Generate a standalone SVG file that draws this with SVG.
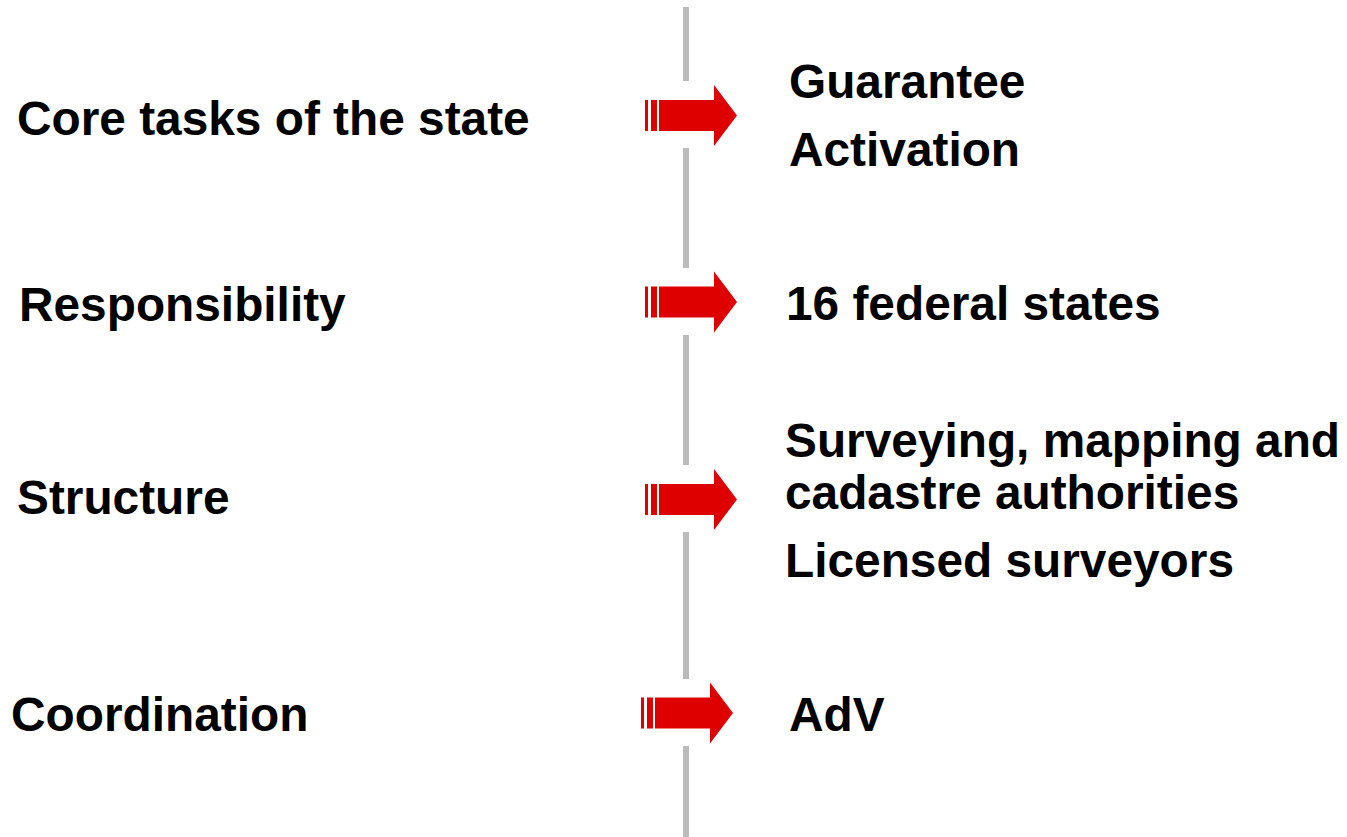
<svg xmlns="http://www.w3.org/2000/svg" xmlns:xlink="http://www.w3.org/1999/xlink" width="1347" height="837" viewBox="0 0 1347 837">
<style>
  .t { font-family: "Liberation Sans", Arial, sans-serif; font-weight: bold; font-size: 47.8px; fill: #000; }
  .sep { fill: #BBBBBB; }
  .arr { fill: #DE0000; }
</style>
<defs>
  <g id="arrow" class="arr">
    <rect x="0" y="-15.5" width="3" height="31"/>
    <rect x="6" y="-15.5" width="6" height="31"/>
    <path d="M14,-15.5 H69 V-30.5 L92,0 L69,30.5 V15.5 H14 Z"/>
  </g>
</defs>
<rect width="1347" height="837" fill="#fff"/>
<g id="separator">
  <rect class="sep" x="683" y="7" width="6" height="74"/>
  <rect class="sep" x="683" y="148" width="6" height="120"/>
  <rect class="sep" x="683" y="335" width="6" height="130"/>
  <rect class="sep" x="683" y="532" width="6" height="147"/>
  <rect class="sep" x="683" y="746" width="6" height="91"/>
</g>
<g id="connectors">
  <use xlink:href="#arrow" href="#arrow" transform="translate(645,115.5)"/>
  <use xlink:href="#arrow" href="#arrow" transform="translate(645,302)"/>
  <use xlink:href="#arrow" href="#arrow" transform="translate(645,499.5)"/>
  <use xlink:href="#arrow" href="#arrow" transform="translate(641,713)"/>
</g>
<g id="core-tasks"><text class="t" x="17" y="135">Core tasks of the state</text></g>
<g id="core-tasks-result">
  <text class="t" x="789" y="98">Guarantee</text>
  <text class="t" x="789" y="166">Activation</text>
</g>
<g id="responsibility"><text class="t" x="19" y="321">Responsibility</text></g>
<g id="responsibility-result"><text class="t" x="786" y="320">16 federal states</text></g>
<g id="structure"><text class="t" x="17" y="514">Structure</text></g>
<g id="structure-result">
  <text class="t" x="785" y="457">Surveying, mapping and</text>
  <text class="t" x="785" y="509">cadastre authorities</text>
  <text class="t" x="785" y="577">Licensed surveyors</text>
</g>
<g id="coordination"><text class="t" x="11" y="731">Coordination</text></g>
<g id="coordination-result"><text class="t" x="789" y="731">AdV</text></g>
</svg>
